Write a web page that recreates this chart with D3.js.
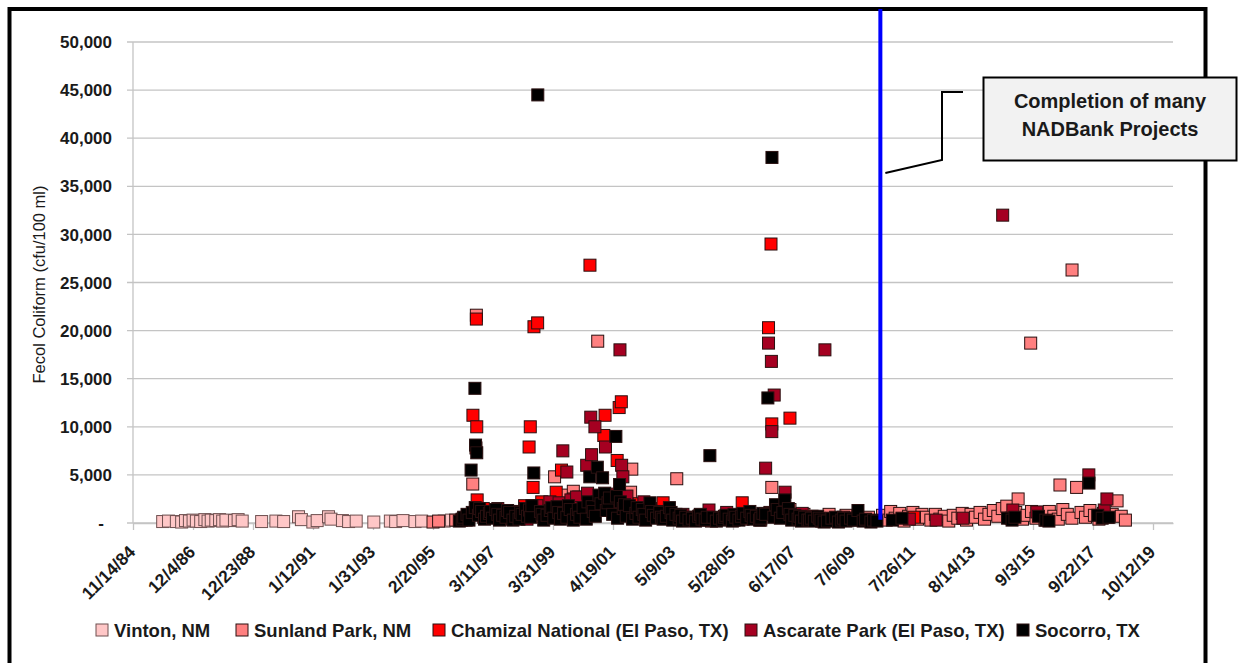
<!DOCTYPE html>
<html><head><meta charset="utf-8">
<script src="https://cdn.jsdelivr.net/npm/d3@7"></script>
<style>
body{margin:0;background:#fff;}
svg{display:block;font-family:"Liberation Sans",Arial,sans-serif;}
</style>
</head><body>
<svg id="chart" width="1239" height="663"></svg>
<script>
// ---------------- DATA ----------------
const seriesNames = ["Vinton, NM","Sunland Park, NM","Chamizal National (El Paso, TX)","Ascarate Park (El Paso, TX)","Socorro, TX"];
const seriesColors = ["#ffc7c7","#ff8080","#ff0000","#a50021","#000000"];

const vinton = [["1985-11-20",150],["1986-02-01",200],["1986-05-10",150],["1986-07-15",100],["1986-09-01",250],["1986-10-20",200],["1986-12-05",300],["1987-01-15",200],["1987-03-10",150],["1987-05-01",350],["1987-06-10",200],["1987-07-20",300],["1987-09-15",250],["1987-11-01",350],["1987-12-10",200],["1988-01-20",300],["1988-05-05",250],["1988-06-20",350],["1988-08-10",200],["1989-04-10",150],["1989-10-05",200],["1990-01-10",150],["1990-07-15",650],["1990-08-20",350],["1991-01-10",100],["1991-03-05",250],["1991-07-25",650],["1991-08-25",400],["1992-01-15",250],["1992-04-01",150],["1992-07-05",200],["1993-02-10",100],["1993-09-05",200],["1993-11-10",150],["1994-02-10",250],["1994-07-10",150],["1994-10-01",200],["1995-07-10",200],["1995-10-10",300]];

const sunlandPark = [["1995-02-20",100],["1995-05-01",200],["1995-12-01",300],["1996-04-10",300],["1996-07-01",4050],["1996-08-15",21600],["1996-11-15",600],["1997-04-10",900],["1997-09-01",500],["1998-03-05",1200],["1998-08-01",700],["1999-01-10",1500],["1999-03-05",800],["1999-04-20",4800],["1999-08-10",2900],["1999-10-10",1900],["1999-12-10",3300],["2000-02-15",2700],["2000-06-10",1500],["2000-10-10",18900],["2001-04-10",2100],["2001-11-25",3200],["2001-12-10",5600],["2002-04-10",900],["2002-08-01",1500],["2003-02-10",500],["2003-06-25",4600],["2003-10-01",300],["2004-03-10",400],["2004-09-01",200],["2005-04-10",600],["2005-10-01",400],["2006-05-10",300],["2006-09-25",3700],["2006-11-15",1200],["2007-04-01",1200],["2007-05-10",1400],["2007-09-01",700],["2007-11-01",900],["2008-01-15",600],["2008-04-10",500],["2008-06-10",300],["2008-09-10",900],["2009-04-10",800],["2009-07-01",500],["2009-10-01",400],["2010-01-15",600],["2010-07-10",800],["2010-08-25",300],["2010-10-20",1200],["2010-12-15",500],["2011-02-10",1000],["2011-04-05",200],["2011-06-01",700],["2011-07-25",1100],["2011-09-20",400],["2011-11-15",900],["2012-01-10",600],["2012-03-05",300],["2012-05-01",900],["2012-06-25",400],["2012-08-20",700],["2012-10-15",200],["2012-12-10",800],["2013-02-05",500],["2013-04-01",1000],["2013-05-25",300],["2013-07-20",900],["2013-09-15",600],["2013-11-10",1100],["2014-01-05",400],["2014-03-01",900],["2014-04-25",1300],["2014-06-20",700],["2014-08-15",1500],["2014-10-10",1750],["2014-12-05",500],["2015-01-30",1100],["2015-03-01",2500],["2015-04-25",400],["2015-06-20",800],["2015-08-05",18700],["2015-08-15",1200],["2015-10-10",500],["2015-12-05",900],["2016-01-30",300],["2016-03-25",1200],["2016-05-20",700],["2016-07-15",400],["2016-08-05",3950],["2016-09-10",1400],["2016-11-05",900],["2017-01-01",500],["2017-01-03",26300],["2017-03-01",3700],["2017-04-25",1100],["2017-06-20",600],["2017-08-15",1300],["2017-10-10",800],["2017-12-05",400],["2018-01-30",1000],["2018-03-25",600],["2018-05-20",900],["2018-07-20",2300],["2018-09-10",700],["2018-11-01",300]];

const chamizal = [["1996-02-10",300],["1996-05-10",800],["1996-07-03",11200],["1996-08-10",7800],["1996-08-15",21200],["1996-08-20",10000],["1996-08-25",2400],["1996-11-10",1500],["1997-02-10",1000],["1997-06-10",400],["1997-10-10",1200],["1998-02-10",700],["1998-04-10",1800],["1998-06-05",7900],["1998-06-20",10000],["1998-07-25",3700],["1998-08-05",20400],["1998-09-20",20800],["1998-10-15",1500],["1998-11-10",2200],["1999-02-10",900],["1999-05-10",3200],["1999-07-15",5500],["1999-09-10",1600],["1999-12-10",2500],["2000-03-10",1300],["2000-07-05",26800],["2000-09-10",2400],["2000-12-25",9100],["2001-01-10",11200],["2001-02-10",1700],["2001-06-10",6500],["2001-07-05",12000],["2001-08-01",12600],["2001-09-10",2600],["2001-12-10",1400],["2002-03-10",2000],["2002-06-10",1500],["2002-10-10",700],["2003-01-05",2100],["2003-03-10",900],["2003-08-10",400],["2004-02-10",600],["2004-06-10",300],["2004-10-10",500],["2005-02-10",700],["2005-06-10",300],["2005-09-20",2100],["2005-12-10",800],["2006-04-10",600],["2006-08-15",20300],["2006-09-01",1100],["2006-09-15",29000],["2006-09-25",10300],["2007-02-10",900],["2007-05-10",10900],["2007-08-10",500],["2008-01-10",400],["2008-06-10",200],["2009-01-10",300],["2011-08-05",600]];

const ascarate = [["1996-03-10",500],["1996-09-10",1200],["1997-01-10",800],["1997-03-10",700],["1997-05-10",1500],["1997-09-10",600],["1998-01-10",1100],["1998-05-10",400],["1998-09-10",1800],["1999-01-10",900],["1999-02-20",2200],["1999-04-10",1400],["1999-06-15",2100],["1999-08-01",7500],["1999-09-20",5300],["1999-11-10",2400],["2000-01-20",2700],["2000-02-10",1600],["2000-05-25",6000],["2000-06-05",3100],["2000-07-15",11000],["2000-07-25",7100],["2000-09-05",10000],["2000-10-10",2200],["2001-01-15",7900],["2001-03-10",3000],["2001-05-10",1500],["2001-07-15",18000],["2001-08-05",6000],["2001-08-20",4800],["2001-10-10",2800],["2002-02-10",1200],["2002-05-10",2200],["2002-09-10",800],["2003-01-10",1200],["2003-05-10",600],["2003-09-10",900],["2004-01-10",500],["2004-04-10",800],["2004-08-01",1350],["2004-11-10",400],["2005-03-10",1100],["2005-07-10",700],["2005-11-10",900],["2006-03-10",500],["2006-07-10",5700],["2006-08-15",18700],["2006-09-20",16800],["2006-09-25",9500],["2006-10-25",13300],["2007-01-10",1300],["2007-03-10",3200],["2007-06-10",900],["2007-10-10",1000],["2008-02-10",700],["2008-07-20",18000],["2008-10-10",400],["2009-03-10",600],["2009-08-10",300],["2011-06-10",400],["2012-05-10",300],["2013-04-10",500],["2014-08-20",32000],["2014-12-25",1350],["2015-10-20",1150],["2017-08-01",5000],["2018-02-10",1350],["2018-03-15",2500]];

const socorro = [["1996-01-15",200],["1996-02-20",400],["1996-03-10",600],["1996-04-20",900],["1996-05-15",300],["1996-06-10",5500],["1996-06-25",1100],["1996-07-28",14000],["1996-08-01",1600],["1996-08-05",8100],["1996-08-20",7300],["1996-09-10",800],["1996-09-25",1500],["1996-10-20",1200],["1996-11-25",400],["1996-12-20",700],["1997-01-25",1000],["1997-02-10",1200],["1997-03-05",500],["1997-04-15",1400],["1997-05-10",900],["1997-06-01",300],["1997-07-10",800],["1997-08-20",600],["1997-09-10",1300],["1997-10-05",1100],["1997-11-15",300],["1997-12-20",700],["1998-01-30",400],["1998-02-20",1100],["1998-03-10",900],["1998-04-20",1500],["1998-05-15",700],["1998-06-10",1350],["1998-06-25",600],["1998-07-10",1800],["1998-08-03",5200],["1998-09-22",44500],["1998-10-25",1200],["1998-11-15",900],["1998-12-05",300],["1999-01-15",800],["1999-02-25",1300],["1999-03-15",1600],["1999-04-10",500],["1999-05-20",1700],["1999-06-10",1100],["1999-07-01",400],["1999-08-10",1000],["1999-09-20",600],["1999-10-10",1800],["1999-11-01",1400],["1999-12-10",300],["2000-01-20",900],["2000-02-10",1400],["2000-03-01",600],["2000-04-10",1600],["2000-05-20",400],["2000-06-10",2200],["2000-07-03",4800],["2000-08-01",1700],["2000-08-15",1200],["2000-09-10",700],["2000-10-05",5800],["2000-10-25",2900],["2000-11-20",2000],["2000-12-10",4700],["2001-01-05",3100],["2001-01-25",1300],["2001-02-15",2100],["2001-03-05",2600],["2001-04-15",900],["2001-05-25",9000],["2001-06-01",2800],["2001-06-15",500],["2001-07-10",4000],["2001-07-20",2200],["2001-08-25",1500],["2001-09-10",1900],["2001-10-01",700],["2001-11-10",1800],["2001-12-20",400],["2002-01-30",1000],["2002-02-15",1600],["2002-03-10",600],["2002-04-20",1400],["2002-05-10",900],["2002-06-01",300],["2002-07-25",2100],["2002-08-15",1200],["2002-09-05",800],["2002-10-15",500],["2002-11-25",1100],["2002-12-15",600],["2003-01-05",400],["2003-02-15",700],["2003-03-25",1600],["2003-04-15",1100],["2003-05-05",300],["2003-06-15",900],["2003-07-25",500],["2003-08-15",800],["2003-09-05",200],["2003-10-15",600],["2003-11-25",300],["2004-01-05",500],["2004-02-15",200],["2004-03-25",700],["2004-04-15",900],["2004-05-05",400],["2004-06-15",300],["2004-07-10",600],["2004-08-12",7000],["2004-09-20",600],["2004-11-01",200],["2004-12-10",500],["2005-01-20",300],["2005-02-10",600],["2005-03-01",800],["2005-04-10",400],["2005-05-20",200],["2005-06-10",900],["2005-07-01",600],["2005-08-10",300],["2005-09-10",700],["2005-10-01",1000],["2005-11-15",500],["2005-12-25",1200],["2006-01-10",800],["2006-02-05",400],["2006-03-15",700],["2006-04-25",300],["2006-05-10",500],["2006-06-05",1000],["2006-07-10",900],["2006-08-07",13000],["2006-09-27",38000],["2006-10-20",600],["2006-11-10",1900],["2006-12-01",1400],["2007-01-10",500],["2007-02-10",1100],["2007-03-07",2400],["2007-04-20",1500],["2007-05-10",900],["2007-06-01",300],["2007-07-10",800],["2007-08-20",400],["2007-09-10",700],["2007-10-01",200],["2007-11-10",600],["2007-12-20",300],["2008-01-10",300],["2008-02-01",500],["2008-03-10",200],["2008-04-20",700],["2008-05-10",500],["2008-06-01",300],["2008-07-10",100],["2008-08-20",200],["2008-10-15",500],["2008-12-01",600],["2009-01-05",100],["2009-02-15",300],["2009-03-10",500],["2009-04-10",200],["2009-06-05",500],["2009-07-10",300],["2009-09-06",1300],["2009-11-10",200],["2009-12-10",400],["2010-02-15",100],["2010-03-20",300],["2010-05-01",200],["2010-11-10",300],["2011-03-10",500],["2014-10-20",500],["2014-12-15",300],["2015-01-20",600],["2015-11-10",700],["2016-02-10",300],["2016-03-20",200],["2017-08-03",4150],["2017-11-20",800],["2018-01-15",500],["2018-04-10",600]];

const yTickValues = [0,5000,10000,15000,20000,25000,30000,35000,40000,45000,50000];
const xTickLabels = ["11/14/84","12/4/86","12/23/88","1/12/91","1/31/93","2/20/95","3/11/97","3/31/99","4/19/01","5/9/03","5/28/05","6/17/07","7/6/09","7/26/11","8/14/13","9/3/15","9/22/17","10/12/19"];
const xDomainLabels = ["11/14/84","6/18/20"];
const projectDate = "2010-06-13";
const yTitle = "Fecol Coliform (cfu/100 ml)";
const annotationLines = ["Completion of many","NADBank Projects"];

// ---------------- CHART ----------------
const svg = d3.select("#chart");
const parseDate = d3.timeParse("%Y-%m-%d");
const parseTick = d3.timeParse("%m/%d/%y");
const plot = {left:133, right:1173, top:42, bottom:523};

const x = d3.scaleTime().domain(xDomainLabels.map(parseTick)).range([plot.left, plot.right]);
const y = d3.scaleLinear().domain([0,50000]).range([plot.bottom, plot.top]);

// outer frame
svg.append("rect").attr("x",9.5).attr("y",9).attr("width",1196).attr("height",700)
  .attr("fill","#fff").attr("stroke","#000").attr("stroke-width",4);

// gridlines
svg.append("g").selectAll("line").data(yTickValues).join("line")
  .attr("x1",plot.left-6).attr("x2",plot.right)
  .attr("y1",d=>y(d)).attr("y2",d=>y(d))
  .attr("stroke","#c4c4c4").attr("stroke-width",1.3);

// y axis line
svg.append("line").attr("x1",plot.left).attr("x2",plot.left).attr("y1",y(50000)).attr("y2",plot.bottom)
  .attr("stroke","#c4c4c4").attr("stroke-width",1.3);

// y tick labels
svg.append("g").selectAll("text").data(yTickValues).join("text")
  .attr("x",d=>d===0?104:112).attr("y",d=>y(d)).attr("dy","0.36em")
  .attr("text-anchor","end").attr("font-size",17).attr("font-weight","bold").attr("fill","#1a1a1a")
  .text(d=>d===0?"-":d3.format(",")(d));

// y title
svg.append("text").attr("transform",`translate(45,${(y(0)+y(50000))/2+2}) rotate(-90)`)
  .attr("text-anchor","middle").attr("font-size",16.5).attr("fill","#1a1a1a").text(yTitle);

// x axis
const tickDates = xTickLabels.map(parseTick);
const xAxis = d3.axisBottom(x).tickValues(tickDates).tickSize(7).tickSizeOuter(0)
  .tickFormat((d,i)=>xTickLabels[i]);
const gx = svg.append("g").attr("transform",`translate(0,${plot.bottom})`).call(xAxis);
gx.select(".domain").attr("stroke","#c4c4c4").attr("stroke-width",1.3);
gx.selectAll(".tick line").attr("stroke","#c4c4c4").attr("stroke-width",1.3);
gx.selectAll(".tick text")
  .attr("x",0).attr("y",0).attr("dy",null)
  .attr("transform","translate(3,30) rotate(-45)")
  .attr("text-anchor","end").attr("font-size",17.5).attr("font-weight","bold")
  .attr("font-family","Liberation Sans, Arial, sans-serif").attr("fill","#1a1a1a");

// points
const allSeries = [vinton, sunlandPark, chamizal, ascarate, socorro];
const ms = 12;
allSeries.forEach((data,i)=>{
  svg.append("g").selectAll("rect").data(data).join("rect")
    .attr("x",d=>x(parseDate(d[0]))-ms/2)
    .attr("y",d=>y(d[1])-ms/2)
    .attr("width",ms).attr("height",ms)
    .attr("fill",seriesColors[i])
    .attr("stroke", i===0 ? "#6e5050" : "#2a1010").attr("stroke-width",1);
});

// blue project line
const bx = x(parseDate(projectDate));
svg.append("line").attr("x1",bx).attr("x2",bx).attr("y1",9).attr("y2",y(350))
  .attr("stroke","#0000ff").attr("stroke-width",4);

// callout
svg.append("path")
  .attr("d",`M963,92 L942,92 L942,160 L${bx+5},173`)
  .attr("fill","none").attr("stroke","#000").attr("stroke-width",2);

// annotation box
svg.append("rect").attr("x",983.5).attr("y",77.5).attr("width",253).attr("height",83)
  .attr("fill","#f2f2f2").attr("stroke","#000").attr("stroke-width",2);
svg.append("g").selectAll("text").data(annotationLines).join("text")
  .attr("x",1110).attr("y",(d,i)=>108+i*28).attr("text-anchor","middle")
  .attr("font-size",20).attr("font-weight","bold").attr("fill","#1a1a1a").text(d=>d);

// legend
const legendX = [96,236,433,745,1017];
const lg = svg.append("g").selectAll("g").data(seriesNames).join("g")
  .attr("transform",(d,i)=>`translate(${legendX[i]},624)`);
lg.append("rect").attr("width",12).attr("height",12)
  .attr("fill",(d,i)=>seriesColors[i]).attr("stroke",(d,i)=>i===0?"#6e5050":"#2a1010").attr("stroke-width",1);
lg.append("text").attr("x",18).attr("y",12.5).attr("font-size",18.5).attr("font-weight","bold")
  .attr("fill","#1a1a1a").text(d=>d);
</script>
</body></html>
